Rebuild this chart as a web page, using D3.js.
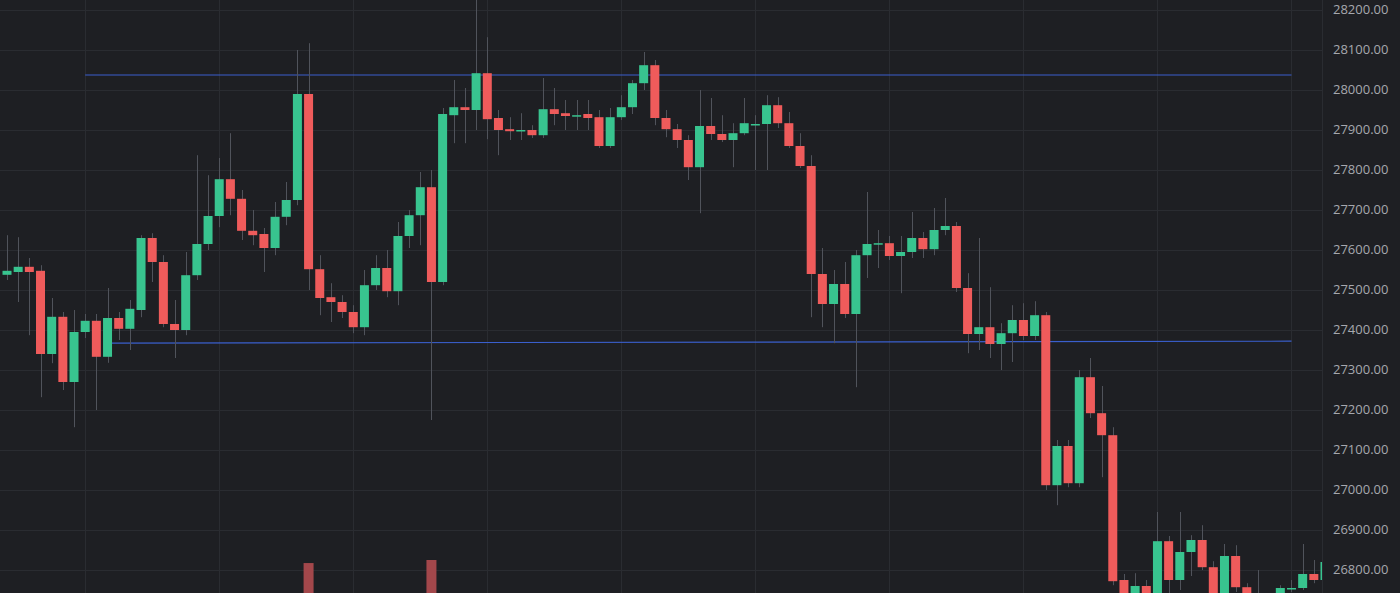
<!DOCTYPE html>
<html>
<head>
<meta charset="utf-8">
<script src="https://cdn.jsdelivr.net/npm/d3@7"></script>
<style>
  html, body { margin: 0; padding: 0; background: #1e1f23; overflow: hidden; }
</style>
</head>
<body>
<svg id="chart"></svg>
<script>

// candle prices, oldest first (candle 1 = left edge)
var opens = [
    27538, 27545, 27558, 27548, 27340, 27433, 27270, 27395, 27423, 27333,
    27430, 27403, 27450, 27630, 27570, 27415, 27400, 27537, 27615, 27685,
    27777, 27728, 27648, 27640, 27605, 27683, 27725, 27990, 27552, 27482,
    27470, 27445, 27407, 27512, 27555, 27497, 27635, 27687, 27757, 27520,
    27937, 27957, 27950, 28042, 27930, 27902, 27898, 27900, 27887, 27952,
    27942, 27935, 27940, 27932, 27860, 27932, 27957, 28017, 28062, 27930,
    27902, 27875, 27807, 27910, 27890, 27875, 27892, 27913, 27915, 27962,
    27917, 27860, 27810, 27540, 27465, 27515, 27440, 27587, 27615, 27617,
    27585, 27595, 27630, 27602, 27650, 27660, 27505, 27390, 27407, 27365,
    27392, 27425, 27385, 27437, 27012, 27110, 27017, 27282, 27192, 27137,
    26775, 26720, 26760, 26720, 26872, 26775, 26845, 26875, 26807, 26730,
    26835, 26757, 26700, 26725, 26720, 26752, 26755, 26790, 26775
];

var highs = [
    27637, 27632, 27580, 27562, 27480, 27445, 27450, 27440, 27440, 27505,
    27445, 27475, 27637, 27642, 27587, 27475, 27595, 27837, 27787, 27830,
    27892, 27750, 27700, 27655, 27720, 27770, 28100, 28117, 27587, 27517,
    27487, 27462, 27550, 27587, 27600, 27670, 27700, 27795, 27800, 27955,
    28025, 28005, 28230, 28132, 27950, 27932, 27942, 27912, 28030, 28005,
    27975, 27975, 27975, 27950, 27955, 27987, 28025, 28095, 28075, 27950,
    27915, 27887, 28000, 27980, 27937, 27917, 27980, 27937, 27987, 27982,
    27945, 27892, 27837, 27605, 27550, 27570, 27600, 27745, 27650, 27635,
    27635, 27695, 27645, 27705, 27730, 27670, 27542, 27630, 27507, 27417,
    27462, 27467, 27472, 27445, 27125, 27125, 27300, 27330, 27260, 27157,
    26790, 26792, 26775, 26945, 26885, 26945, 26887, 26912, 26822, 26865,
    26862, 26767, 26800, 26740, 26762, 26775, 26865, 26825, 26830
];

var lows = [
    27525, 27470, 27387, 27232, 27317, 27250, 27157, 27380, 27200, 27318,
    27375, 27350, 27432, 27520, 27407, 27330, 27387, 27525, 27600, 27657,
    27687, 27625, 27612, 27545, 27587, 27662, 27712, 27500, 27437, 27420,
    27430, 27392, 27387, 27500, 27482, 27462, 27605, 27612, 27175, 27512,
    27867, 27867, 27900, 27877, 27837, 27875, 27875, 27880, 27880, 27912,
    27900, 27900, 27900, 27855, 27855, 27925, 27940, 28000, 27912, 27882,
    27855, 27775, 27692, 27875, 27870, 27807, 27887, 27800, 27800, 27905,
    27855, 27805, 27432, 27407, 27367, 27430, 27257, 27530, 27555, 27575,
    27492, 27580, 27580, 27587, 27637, 27495, 27342, 27350, 27330, 27300,
    27320, 27375, 27375, 27000, 26962, 27007, 27007, 27180, 27032, 26762,
    26700, 26700, 26705, 26705, 26720, 26750, 26785, 26800, 26710, 26715,
    26745, 26690, 26690, 26710, 26710, 26745, 26750, 26767, 26770
];

var closes = [
    27548, 27558, 27545, 27340, 27433, 27270, 27395, 27423, 27333, 27430,
    27403, 27453, 27630, 27570, 27415, 27400, 27537, 27615, 27685, 27777,
    27728, 27648, 27637, 27605, 27683, 27725, 27990, 27552, 27480, 27470,
    27445, 27407, 27512, 27555, 27497, 27635, 27687, 27757, 27520, 27940,
    27957, 27950, 28042, 27927, 27900, 27897, 27900, 27887, 27952, 27940,
    27935, 27937, 27930, 27860, 27932, 27957, 28017, 28062, 27930, 27902,
    27875, 27807, 27910, 27890, 27875, 27892, 27917, 27915, 27962, 27917,
    27860, 27810, 27540, 27465, 27515, 27440, 27587, 27615, 27617, 27585,
    27595, 27630, 27602, 27650, 27660, 27505, 27390, 27407, 27365, 27392,
    27425, 27385, 27437, 27012, 27110, 27017, 27282, 27192, 27137, 26772,
    26720, 26760, 26720, 26872, 26775, 26845, 26875, 26807, 26730, 26835,
    26757, 26700, 26725, 26735, 26755, 26755, 26790, 26775, 26820
];

// only two volume bars reach into the visible area
var volumeCandles = [28, 39];
var volumeValues = [1660, 1697];

// price axis ticks and the time grid (every 12th candle)
var priceTicks = [28200, 28100, 28000, 27900, 27800, 27700, 27600, 27500,
                  27400, 27300, 27200, 27100, 27000, 26900, 26800];
var timeGridCandles = [8, 20, 32, 44, 56, 68, 80, 92, 104, 116];

// drawn lines: resistance and support
var levelStart = [8, 10];
var levelEnd = [116, 116];
var levelPriceStart = [28037.5, 27367];
var levelPriceEnd = [28037.5, 27372];

var candles = opens.map(function(o, i) {
    return { i: i + 1, o: o, h: highs[i], l: lows[i], c: closes[i] };
});

var width = 1400;
var height = 593;
var plotRight = 1322;

var upColor = "#38c48f";
var downColor = "#ef5b5b";
var gridColor = "#2a2c31";

var svg = d3.select("#chart")
    .attr("width", width)
    .attr("height", height)
    .style("display", "block")
    .style("background", "#1e1f23");

// Set up scales
var xScale = d3.scaleLinear()
    .domain([1, 119])
    .range([7, 1325]);

var yScale = d3.scaleLinear()
    .domain([26800, 28200])
    .range([570, 10]);

var volScale = d3.scaleLinear()
    .domain([0, 2000])
    .range([700, 535]);

svg.append("defs").append("clipPath")
    .attr("id", "plot-clip")
    .append("rect")
    .attr("x", 0).attr("y", 0)
    .attr("width", plotRight).attr("height", height);

var plot = svg.append("g").attr("clip-path", "url(#plot-clip)");

// horizontal grid
plot.append("g").selectAll("line")
    .data(priceTicks)
    .enter().append("line")
    .attr("x1", 0)
    .attr("x2", plotRight)
    .attr("y1", function(d) { return Math.round(yScale(d)) + 0.5; })
    .attr("y2", function(d) { return Math.round(yScale(d)) + 0.5; })
    .attr("stroke", gridColor)
    .attr("stroke-width", 1);

// vertical grid
plot.append("g").selectAll("line")
    .data(timeGridCandles)
    .enter().append("line")
    .attr("x1", function(d) { return Math.round(xScale(d)) + 0.5; })
    .attr("x2", function(d) { return Math.round(xScale(d)) + 0.5; })
    .attr("y1", 0)
    .attr("y2", height)
    .attr("stroke", gridColor)
    .attr("stroke-width", 1);

// volume bars
plot.append("g").selectAll("rect")
    .data(volumeCandles)
    .enter().append("rect")
    .attr("x", function(d) { return xScale(d) - 5; })
    .attr("width", 10)
    .attr("y", function(d, i) { return volScale(volumeValues[i]); })
    .attr("height", function(d, i) { return volScale(0) - volScale(volumeValues[i]); })
    .attr("fill", "#a3474b");

// level lines (under the candles)
plot.append("g").selectAll("line")
    .data(levelStart)
    .enter().append("line")
    .attr("x1", function(d) { return xScale(d); })
    .attr("x2", function(d, i) { return xScale(levelEnd[i]); })
    .attr("y1", function(d, i) { return yScale(levelPriceStart[i]); })
    .attr("y2", function(d, i) { return yScale(levelPriceEnd[i]); })
    .attr("stroke", "#3a5fcd")
    .attr("stroke-width", 1.2);

// wicks
plot.append("g").selectAll("line")
    .data(candles)
    .enter().append("line")
    .attr("x1", function(d) { return Math.round(xScale(d.i)) + 0.5; })
    .attr("x2", function(d) { return Math.round(xScale(d.i)) + 0.5; })
    .attr("y1", function(d) { return yScale(d.h); })
    .attr("y2", function(d) { return yScale(d.l); })
    .attr("stroke", "#50535b")
    .attr("stroke-width", 1);

// bodies
plot.append("g").selectAll("rect")
    .data(candles)
    .enter().append("rect")
    .attr("x", function(d) { return xScale(d.i) - 4.5; })
    .attr("width", 9)
    .attr("y", function(d) { return yScale(Math.max(d.o, d.c)); })
    .attr("height", function(d) {
        return Math.max(1.5, Math.abs(yScale(d.o) - yScale(d.c)));
    })
    .attr("fill", function(d) { return d.c >= d.o ? upColor : downColor; });

// price axis panel
svg.append("line")
    .attr("x1", plotRight + 0.5)
    .attr("x2", plotRight + 0.5)
    .attr("y1", 0)
    .attr("y2", height)
    .attr("stroke", gridColor);

svg.append("g").selectAll("text")
    .data(priceTicks)
    .enter().append("text")
    .attr("x", 1333)
    .attr("y", function(d) { return yScale(d) + 1; })
    .attr("dominant-baseline", "middle")
    .attr("fill", "#a6a8ae")
    .style("font-family", "'Open Sans', 'Noto Sans', sans-serif")
    .style("font-size", "13px")
    .text(function(d) { return d3.format(".2f")(d); });

</script>
</body>
</html>
